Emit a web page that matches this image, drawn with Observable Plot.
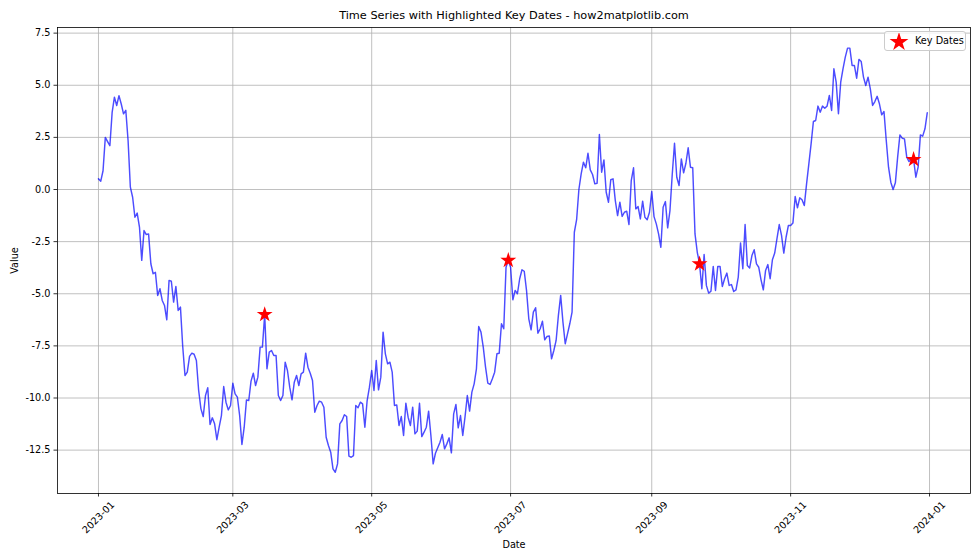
<!DOCTYPE html>
<html><head><meta charset="utf-8">
<script src="https://cdn.jsdelivr.net/npm/d3@7"></script>
<script src="https://cdn.jsdelivr.net/npm/@observablehq/plot@0.6"></script>
<style>
body{margin:0;background:#fff;}
#chart{position:relative;width:980px;height:560px;}
#legend{position:absolute;left:884px;top:31px;width:82px;height:20px;border:1px solid #cccccc;border-radius:3px;background:rgba(255,255,255,0.8);font:9.7px "DejaVu Sans",sans-serif;box-sizing:border-box;}
#legend svg{position:absolute;left:4px;top:1px;}
#legend span{position:absolute;left:30px;top:3px;white-space:nowrap;}
</style></head><body><div id="chart"></div><script>
const startDate = "2023-01-01";
const values = [
 0.51, 0.40, 0.90, 2.50, 2.30, 2.10, 3.70, 4.43, 4.03, 4.50,
 4.10, 3.63, 3.80, 2.35, 0.11, -0.37, -1.33, -1.13, -1.80, -3.40,
 -1.97, -2.16, -2.13, -3.56, -4.04, -3.97, -5.08, -4.76, -5.32, -5.56,
 -6.25, -4.36, -4.40, -5.40, -4.65, -5.80, -5.64, -7.53, -8.92, -8.76,
 -8.00, -7.85, -7.90, -8.20, -9.64, -10.52, -10.89, -9.88, -9.51, -11.27,
 -10.95, -11.24, -12.00, -11.40, -10.84, -9.45, -10.20, -10.57, -10.36, -9.29,
 -9.80, -9.96, -10.84, -12.23, -11.40, -10.09, -10.12, -9.19, -8.81, -9.40,
 -9.00, -7.56, -7.56, -6.00, -8.60, -7.80, -7.72, -7.96, -7.96, -9.88,
 -10.12, -9.88, -8.28, -8.68, -9.48, -10.09, -9.24, -8.92, -9.40, -8.84,
 -8.76, -7.85, -8.52, -8.81, -9.16, -10.68, -10.36, -10.15, -10.20, -10.44,
 -11.88, -12.28, -12.60, -13.40, -13.56, -13.16, -11.24, -11.08, -10.80, -10.89,
 -12.79, -12.84, -12.76, -10.36, -10.47, -10.20, -10.28, -11.40, -10.12, -9.48,
 -8.68, -9.64, -8.20, -9.61, -9.00, -6.84, -7.88, -8.36, -8.28, -8.76,
 -10.36, -10.33, -11.32, -10.89, -11.80, -10.25, -10.92, -11.32, -10.44, -11.72,
 -11.59, -10.25, -11.85, -11.64, -11.40, -10.63, -11.80, -13.16, -12.65, -12.39,
 -12.12, -11.75, -12.44, -12.20, -11.91, -12.63, -10.76, -10.31, -11.43, -10.84,
 -11.80, -10.89, -9.88, -10.63, -9.72, -9.32, -8.60, -6.57, -6.84, -7.56,
 -8.52, -9.29, -9.35, -9.08, -8.76, -7.88, -7.85, -6.44, -6.68, -3.73,
 -3.40, -3.73, -5.29, -4.84, -5.00, -4.28, -3.85, -3.92, -4.84, -6.20,
 -6.73, -5.88, -5.67, -6.89, -6.68, -6.32, -7.21, -7.05, -7.02, -8.12,
 -7.72, -7.24, -6.04, -5.08, -6.36, -7.40, -6.92, -6.44, -5.88, -2.05,
 -1.45, 0.00, 0.75, 1.31, 1.04, 1.74, 0.94, 0.72, 0.27, 0.30,
 2.64, 0.83, 1.42, -0.13, -0.61, 0.47, 0.51, -0.53, -1.25, -0.61,
 -1.29, -1.09, -1.04, -1.68, 0.43, 1.04, -0.93, -0.82, -1.41, -0.56,
 -1.33, -1.45, -1.09, -0.10, -1.30, -1.65, -2.13, -2.77, -0.85, -0.58,
 -1.84, -1.01, 0.72, 2.22, 0.59, 0.19, 1.47, 0.80, 1.26, 2.00,
 1.07, 1.04, -2.13, -3.01, -3.57, -4.76, -3.12, -4.60, -4.97, -4.88,
 -3.69, -4.84, -3.69, -3.69, -4.65, -4.28, -4.01, -4.60, -4.56, -4.89,
 -4.81, -4.20, -2.57, -3.80, -1.68, -3.65, -3.76, -3.17, -2.89, -3.57,
 -3.73, -4.33, -4.81, -3.88, -3.60, -4.28, -3.37, -3.05, -2.36, -1.68,
 -2.20, -3.05, -2.29, -1.73, -1.73, -1.61, -0.34, -0.88, -0.40, -0.49,
 -0.77, 0.27, 1.23, 2.20, 3.26, 3.31, 4.00, 3.71, 4.00, 3.90,
 4.00, 4.51, 3.79, 5.79, 5.15, 3.63, 5.15, 5.79, 6.35, 6.78,
 6.78, 5.95, 5.95, 5.34, 6.24, 6.14, 5.39, 4.99, 5.39, 4.83,
 4.03, 4.22, 4.47, 4.11, 3.58, 3.74, 2.35, 1.07, 0.35, 0.00,
 0.32, 1.55, 2.62, 2.46, 2.43, 1.55, 1.34, 1.44, 1.44, 0.59,
 1.07, 2.62, 2.56, 2.91, 3.68
];
const keyDates = ["2023-03-15", "2023-06-30", "2023-09-22", "2023-12-25"];
const xTickLabels = ["2023-01", "2023-03", "2023-05", "2023-07", "2023-09", "2023-11", "2024-01"];
const yTicks = [-12.5, -10, -7.5, -5, -2.5, 0, 2.5, 5, 7.5];
const xDomain = ["2022-12-14", "2024-01-19"];
const yDomain = [-14.58, 7.77];
const titleText = "Time Series with Highlighted Key Dates - how2matplotlib.com";
const xLabel = "Date";
const yLabel = "Value";
const legendLabel = "Key Dates";

const FONT = '"DejaVu Sans", sans-serif';
const start = new Date(startDate);
const data = values.map((v, i) => ({date: new Date(start.getTime() + i * 864e5), value: v}));
const keyData = keyDates.map(s => {
  const d = new Date(s);
  const i = Math.round((d - start) / 864e5);
  return {date: d, value: values[i]};
});
const xTicks = xTickLabels.map(s => new Date(s + "-01"));

const chart = Plot.plot({
  width: 980, height: 560,
  marginLeft: 57, marginRight: 10, marginTop: 27, marginBottom: 67,
  style: {fontFamily: FONT, fontSize: "9.7px", color: "#000", background: "#fff"},
  x: {type: "utc", domain: xDomain.map(s => new Date(s))},
  y: {domain: yDomain},
  marks: [
    Plot.gridX(xTicks, {stroke: "#b0b0b0", strokeOpacity: 1, strokeWidth: 0.8}),
    Plot.gridY(yTicks, {stroke: "#b0b0b0", strokeOpacity: 1, strokeWidth: 0.8}),
    Plot.line(data, {x: "date", y: "value", stroke: "blue", strokeOpacity: 0.7, strokeWidth: 1.45}),
    Plot.dot(keyData, {x: "date", y: "value", symbol: "star", fill: "red", stroke: "none", r: 5}),
    Plot.frame({stroke: "#000", strokeWidth: 0.8}),
    Plot.axisX(xTicks, {tickFormat: d3.utcFormat("%Y-%m"), tickSize: 3.5, tickPadding: 20.5, tickRotate: -45, textAnchor: "middle", lineAnchor: "middle", label: null, strokeWidth: 0.8}),
    Plot.axisY(yTicks, {tickFormat: d => d.toFixed(1), tickSize: 3.5, tickPadding: 3.5, label: null, strokeWidth: 0.8}),
    Plot.text([titleText], {text: d => d, frameAnchor: "top", dy: -12, lineAnchor: "middle", fontSize: 11.3}),
    Plot.text([xLabel], {text: d => d, frameAnchor: "bottom", dy: 51, lineAnchor: "middle"}),
    Plot.text([yLabel], {text: d => d, frameAnchor: "left", dx: -43, rotate: -90, textAnchor: "middle", lineAnchor: "middle"})
  ]
});
const root = document.getElementById("chart");
root.appendChild(chart);

const legend = document.createElement("div");
legend.id = "legend";
const starPath = d3.symbol(d3.symbolStar, 110)();
legend.innerHTML = `<svg width="20" height="18" viewBox="-10 -9 20 18"><path d="${starPath}" fill="red"></path></svg><span></span>`;
legend.querySelector("span").textContent = legendLabel;
root.appendChild(legend);
</script></body></html>
